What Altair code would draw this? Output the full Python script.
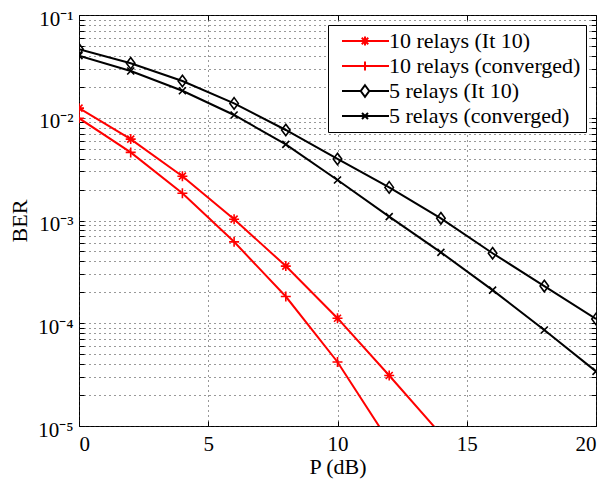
import altair as alt
import pandas as pd

# ---- data ----
p_db = [0, 2, 4, 6, 8, 10, 12, 14, 16, 18, 20]
ber_10_it10 = [0.0124, 0.0062, 0.0027, 0.00103, 0.00036, 0.000112, 3.1e-5, 8.3e-6]
ber_10_conv = [0.0099, 0.0046, 0.00184, 0.00062, 0.000182, 4.2e-5, 7.0e-6]
ber_5_it10 = [0.0464, 0.0339, 0.0228, 0.0138, 0.0076, 0.00397, 0.0021, 0.00105, 0.00048, 0.00023, 0.00011]
ber_5_conv = [0.0402, 0.0285, 0.0183, 0.01064, 0.0055, 0.00248, 0.00109, 0.00049, 0.00021, 8.6e-5, 3.4e-5]

series_names = ["10 relays (It 10)", "10 relays (converged)", "5 relays (It 10)", "5 relays (converged)"]
series_values = [ber_10_it10, ber_10_conv, ber_5_it10, ber_5_conv]
series_colors = ["#ff0000", "#ff0000", "#000000", "#000000"]

x_ticks = [0, 5, 10, 15, 20]
y_major = [1e-5, 1e-4, 1e-3, 1e-2, 1e-1]
y_major_labels = ["10\u207b\u2075", "10\u207b\u2074", "10\u207b\u00b3", "10\u207b\u00b2", "10\u207b\u00b9"]
y_minor = [m * d for d in [1e-5, 1e-4, 1e-3, 1e-2] for m in range(2, 10)]

# marker shapes (unit square) for the plot
marker_paths = [
    "M-1,0L1,0M0,-1L0,1M-0.7,-0.7L0.7,0.7M-0.7,0.7L0.7,-0.7",
    "M-1,0L1,0M0,-1L0,1",
    "M0,-1.15L0.85,0L0,1.15L-0.85,0Z",
    "M-0.7,-0.7L0.7,0.7M-0.7,0.7L0.7,-0.7",
]
# legend symbols: line segment with marker in the middle
legend_paths = [
    "M-0.4,0L9,0M4.2,-0.9L4.2,0.9M3.55,-0.65L4.85,0.65M3.55,0.65L4.85,-0.65",
    "M-0.4,0L9,0M4.2,-0.9L4.2,0.9",
    "M-0.4,0L3.35,0M5.05,0L9,0M4.2,-1.15L5.05,0L4.2,1.15L3.35,0Z",
    "M-0.4,0L9,0M3.6,-0.6L4.8,0.6M3.6,0.6L4.8,-0.6",
]

rows = []
for name, vals in zip(series_names, series_values):
    for p, b in zip(p_db, vals):
        rows.append({"P": p, "BER": b, "series": name})
df = pd.DataFrame(rows)

FONT = "Liberation Serif"

label_expr = " : ".join(
    f"abs(datum.value/{v} - 1) < 0.01 ? '{lab}'" for v, lab in zip(y_major, y_major_labels)
) + " : ''"

x_scale = alt.Scale(domain=[0, 20], nice=False, zero=False)
y_scale = alt.Scale(type="log", domain=[1e-5, 1e-1], nice=False)

x_enc = alt.X(
    "P:Q", scale=x_scale,
    axis=alt.Axis(
        orient="bottom",
        values=x_ticks, title="P (dB)", grid=True, gridDash=[1, 4], gridColor="#333333",
        gridWidth=1, domain=False, tickSize=5, offset=-5, tickColor="black", tickWidth=1,
        labelFont=FONT, labelFontSize=21, labelColor="black", labelPadding=7,
        titleFont=FONT, titleFontSize=22, titleFontWeight="normal", titleColor="black",
        titlePadding=2,
    ),
)
y_enc = alt.Y(
    "BER:Q", scale=y_scale,
    axis=alt.Axis(
        orient="left",
        values=y_major + y_minor, labelExpr=label_expr, title="BER", grid=True,
        gridDash=[1, 4], gridColor="#333333", gridWidth=1, domain=False, tickSize=5,
        offset=-5, tickColor="black", tickWidth=1, labelFont=FONT, labelFontSize=21,
        labelColor="black", labelPadding=6, labelOffset=4, titleFont=FONT, titleFontSize=22,
        titleFontWeight="normal", titleColor="black", titlePadding=6,
    ),
)

# ticks on the top and right edges of the box (MATLAB style)
x_top = alt.X(
    "P:Q", scale=x_scale,
    axis=alt.Axis(orient="top", values=x_ticks, title=None, labels=False, grid=False,
                  domain=False, tickSize=5, offset=-5, tickColor="black", tickWidth=1),
)
y_right = alt.Y(
    "BER:Q", scale=y_scale,
    axis=alt.Axis(orient="right", values=y_major + y_minor, title=None, labels=False,
                  grid=False, domain=False, tickSize=5, offset=-5, tickColor="black",
                  tickWidth=1),
)
x_plain = alt.X("P:Q", scale=x_scale, axis=None)
y_plain = alt.Y("BER:Q", scale=y_scale, axis=None)

color_scale = alt.Scale(domain=series_names, range=series_colors)

base = alt.Chart(df)

lines = base.mark_line(clip=True, strokeWidth=2).encode(
    x=x_enc, y=y_enc,
    color=alt.Color("series:N", scale=color_scale, legend=None),
)

points = base.mark_point(clip=True, filled=False, size=100, strokeWidth=1.6, opacity=1).encode(
    x=x_plain, y=y_plain,
    color=alt.Color("series:N", scale=color_scale, legend=None),
    shape=alt.Shape("series:N", scale=alt.Scale(domain=series_names, range=marker_paths), legend=None),
)

legend_def = alt.Legend(
    title=None, orient="none", legendX=249, legendY=10, strokeColor="black", fillColor="white",
    padding=5, labelFont=FONT, labelFontSize=22, labelColor="black", labelOffset=34,
    labelLimit=500, symbolSize=100, symbolStrokeWidth=2, symbolOpacity=1, rowPadding=3,
)

legend_layer = base.transform_filter("false").mark_point(filled=False, opacity=1).encode(
    x=x_top, y=y_right,
    shape=alt.Shape("series:N", scale=alt.Scale(domain=series_names, range=legend_paths), legend=legend_def),
    color=alt.Color("series:N", scale=alt.Scale(domain=series_names, range=series_colors), legend=legend_def),
)

chart = (
    alt.layer(lines, points, legend_layer)
    .resolve_scale(shape="independent", color="independent")
    .resolve_axis(x="independent", y="independent")
    .properties(
        width=517, height=411,
        autosize=alt.AutoSizeParams(type="none"),
        padding={"left": 71, "top": 7, "right": 4, "bottom": 55},
        background="white",
    )
    .configure(font=FONT)
    .configure_axis(labelFont=FONT, titleFont=FONT)
    .configure_legend(labelFont=FONT)
    .configure_view(stroke="black", strokeWidth=1)
)

chart.save("out.html", embed_options={"renderer": "svg", "actions": False})
